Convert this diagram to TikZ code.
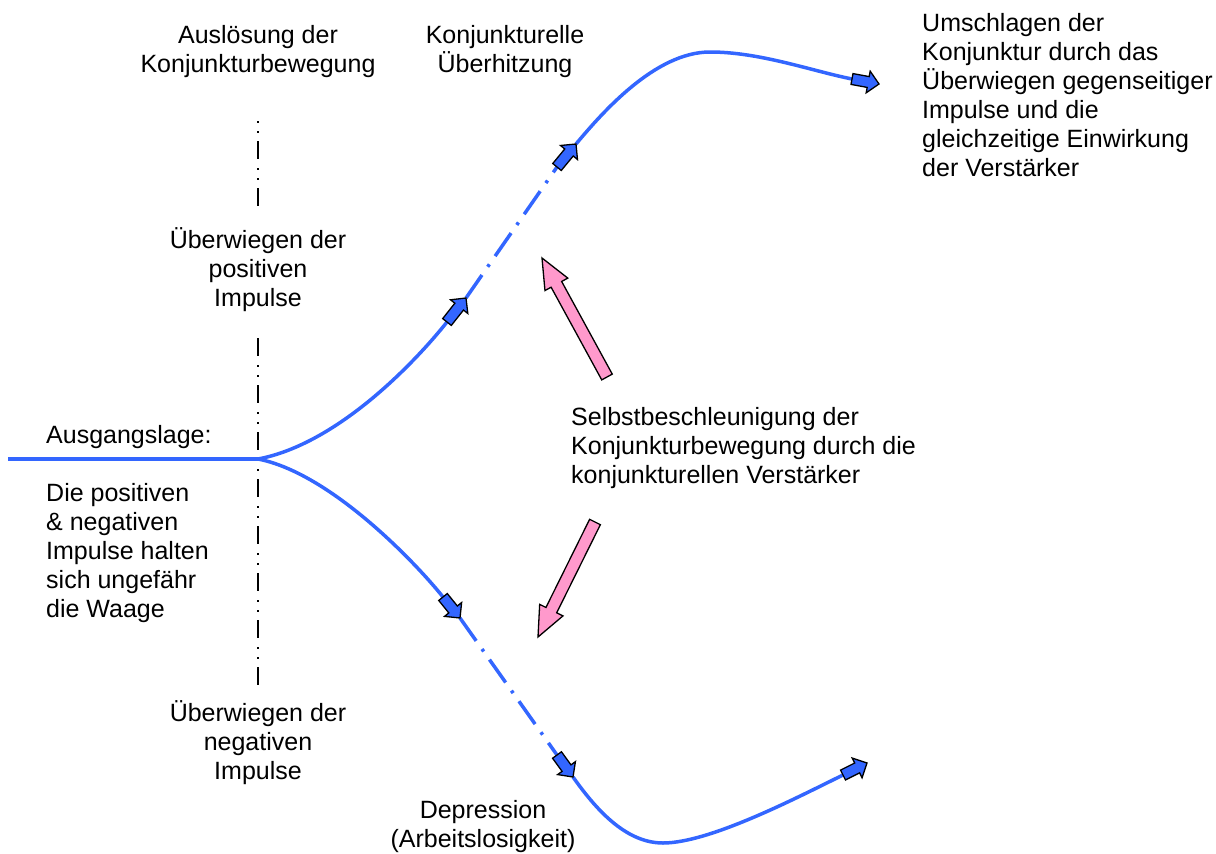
\documentclass[tikz,border=0pt]{standalone}
\usepackage{fontspec}
\setmainfont{Liberation Sans}
\usetikzlibrary{calc}
\definecolor{curveblue}{RGB}{51,102,255}
\definecolor{arrowpink}{RGB}{255,153,204}
% block arrow: #1 style, #2 tail, #3 tip, #4 half body width, #5 half head width, #6 head length
\newcommand\blkarrow[6]{%
  \coordinate (#3-base) at ($(#3)!#6!(#2)$);
  \path[#1] ($(#2)!#4!90:(#3)$) -- ($(#3-base)!#4!90:(#3)$) -- ($(#3-base)!#5!90:(#3)$) -- (#3)
    -- ($(#3-base)!#5!-90:(#3)$) -- ($(#3-base)!#4!-90:(#3)$) -- ($(#2)!#4!-90:(#3)$) -- cycle;
}
\begin{document}
\begin{tikzpicture}[x=1pt,y=-1pt,
  lbl/.style={font=\fontsize{25}{29}\selectfont, inner sep=0pt},
  curve/.style={draw=curveblue, line width=3.5pt},
  dashdot/.style={curve, dash pattern=on 28pt off 10pt on 3pt off 10pt},
  axisline/.style={draw=black, line width=2pt},
  axisdots/.style={axisline, dash pattern=on 1.5pt off 8.5pt on 1.5pt off 8.5pt on 18pt off 9pt},
  axisdash/.style={axisline, dash pattern=on 18pt off 9pt on 1.5pt off 8.5pt on 1.5pt off 8.5pt},
  bluearrow/.style={fill=curveblue, draw=black, line width=1.3pt, line join=miter},
  pinkarrow/.style={fill=arrowpink, draw=black, line width=1.3pt, line join=miter}]
\useasboundingbox (0,0) rectangle (1216,854);

% texts
\node[lbl, align=center] (ausl) at (258,52) {Auslösung der\\Konjunkturbewegung};
\node[lbl, align=center] (ueberh) at (505,52) {Konjunkturelle\\Überhitzung};
\node[lbl, align=left, anchor=west] (umschl) at (922,95) {Umschlagen der\\Konjunktur durch das\\Überwiegen gegenseitiger\\Impulse und die\\gleichzeitige Einwirkung\\der Verstärker};
\node[lbl, align=center] (pos) at (258,270) {Überwiegen der\\positiven\\Impulse};
\node[lbl, anchor=west] (ausg) at (46,437) {Ausgangslage:};
\node[lbl, align=left, anchor=west] (waage) at (46,553) {Die positiven\\\& negativen\\Impulse halten\\sich ungefähr\\die Waage};
\node[lbl, align=left, anchor=west] (selbst) at (571,448) {Selbstbeschleunigung der\\Konjunkturbewegung durch die\\konjunkturellen Verstärker};
\node[lbl, align=center] (neg) at (258,743) {Überwiegen der\\negativen\\Impulse};
\node[lbl, align=center] (depr) at (483,827) {Depression\\(Arbeitslosigkeit)};

% vertical axis
\coordinate (ax1) at (258,121);
\coordinate (ax2) at (258,207);
\coordinate (ax3) at (258,338);
\coordinate (ax4) at (258,686);
\draw[axisdots] (ax1) -- (ax2);
\draw[axisdash] (ax3) -- (ax4);

% curve points
\coordinate (start) at (8,459);
\coordinate (fork) at (258,459);
\coordinate (u1t) at (447,322);
\coordinate (u1h) at (466,298);
\coordinate (u2t) at (557,167);
\coordinate (u2h) at (576,144);
\coordinate (peak) at (710,52);
\coordinate (u3t) at (852,79);
\coordinate (u3h) at (879,84);
\coordinate (l1t) at (443,597);
\coordinate (l1h) at (460,618);
\coordinate (l2t) at (557,755);
\coordinate (l2h) at (573,777);
\coordinate (trough) at (663,843);
\coordinate (l3t) at (843,775);
\coordinate (l3h) at (867,763);

\draw[curve] (start) -- (fork);
\draw[curve] (fork) .. controls (338,444) and (416,361) .. (u1t);
\draw[dashdot] (u1h) -- (u2t);
\draw[curve] (u2h) .. controls (602,113) and (655,52) .. (peak) .. controls (760,52) and (812,71) .. (u3t);
\draw[curve] (fork) .. controls (330,473) and (415,562) .. (l1t);
\draw[dashdot] (l1h) -- (l2t);
\draw[curve] (l2h) .. controls (595,808) and (625,843) .. (trough) .. controls (710,843) and (798,797) .. (l3t);

\blkarrow{bluearrow}{u1t}{u1h}{5.5pt}{11pt}{11pt}
\blkarrow{bluearrow}{u2t}{u2h}{5.5pt}{11pt}{11pt}
\blkarrow{bluearrow}{u3t}{u3h}{5.5pt}{11pt}{11pt}
\blkarrow{bluearrow}{l1t}{l1h}{5.5pt}{11pt}{11pt}
\blkarrow{bluearrow}{l2t}{l2h}{5.5pt}{11pt}{11pt}
\blkarrow{bluearrow}{l3t}{l3h}{5.5pt}{11pt}{11pt}

% pink arrows
\coordinate (p1t) at (607,377);
\coordinate (p1h) at (542,258);
\coordinate (p2t) at (595,522);
\coordinate (p2h) at (538,637);
\blkarrow{pinkarrow}{p1t}{p1h}{6pt}{13pt}{30pt}
\blkarrow{pinkarrow}{p2t}{p2h}{6pt}{13pt}{30pt}
\end{tikzpicture}
\end{document}
